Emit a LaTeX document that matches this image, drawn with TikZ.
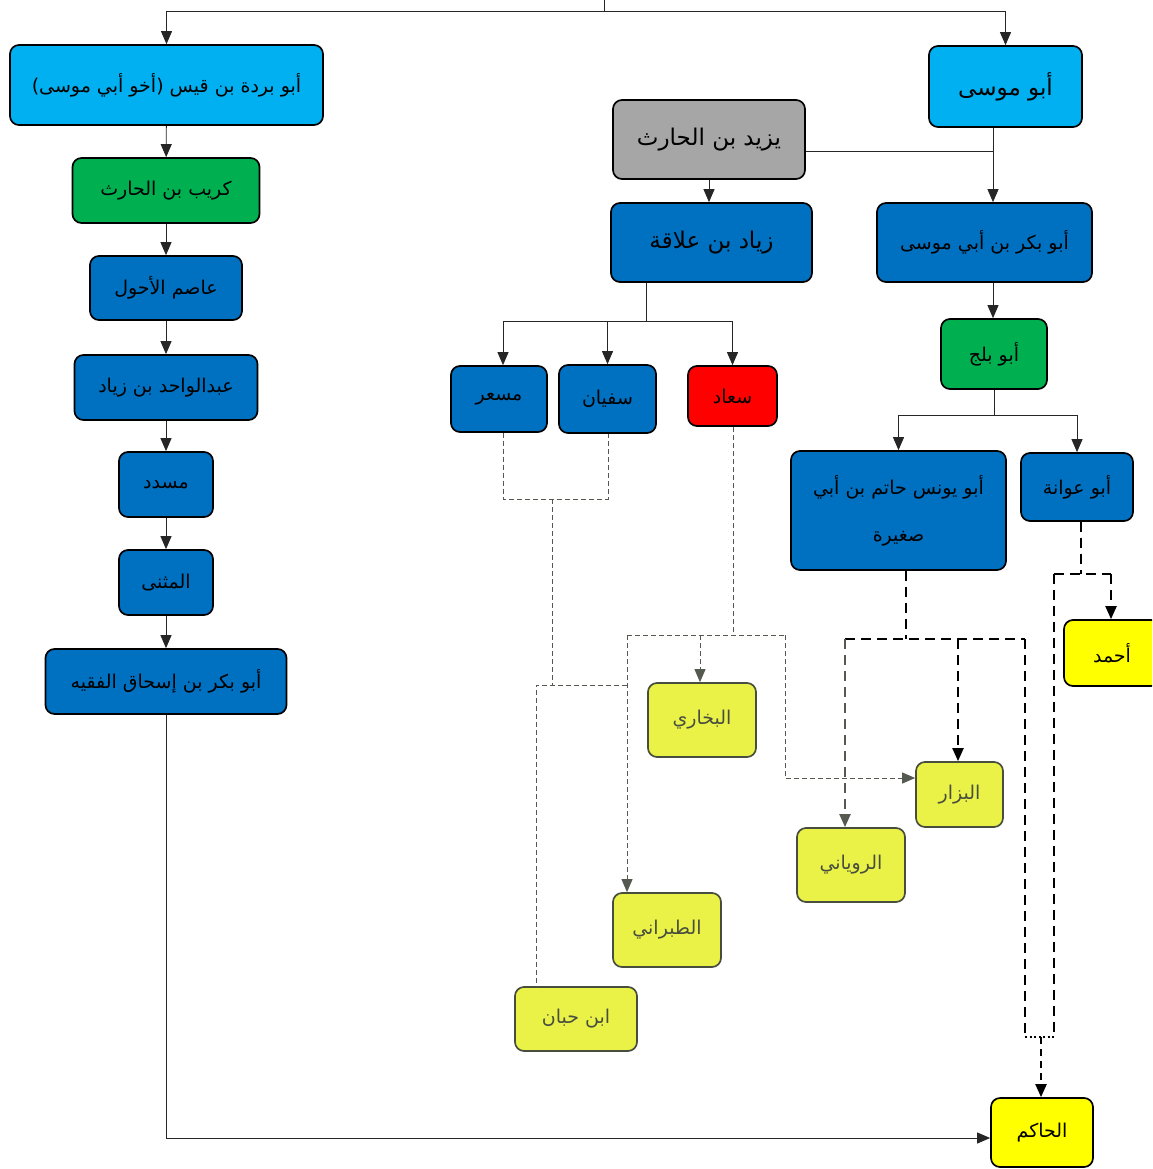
\documentclass[tikz,border=0pt]{standalone}
\usepackage{fontspec}
\usetikzlibrary{arrows.meta,calc}
\TeXXeTstate=1
\newfontfamily\arfont[Script=Arabic]{DejaVu Sans}
\newcommand\AR[1]{\beginR #1\endR}
\definecolor{cyanC}{RGB}{0,176,240}
\definecolor{greenC}{RGB}{0,176,80}
\definecolor{blueC}{RGB}{0,112,192}
\definecolor{grayC}{RGB}{166,166,166}
\definecolor{redC}{RGB}{255,0,0}
\definecolor{yelC}{RGB}{255,255,0}
\definecolor{yelT}{RGB}{234,242,72}
\definecolor{edgeT}{RGB}{72,78,62}
\definecolor{lineT}{RGB}{85,90,80}
\tikzset{
  box/.style={draw=black, line width=1.7pt, rounded corners=9pt, inner sep=2pt,
    font=\arfont\fontsize{19}{23}\selectfont, text=black},
  tbox/.style={box, fill=yelT, draw=edgeT, text=edgeT},
  big/.style={font=\arfont\fontsize{23}{27}\selectfont},
  conn/.style={draw=black!85, line width=0.9pt},
  arr/.style={conn, -{Triangle[width=11pt,length=13pt]}},
  dthin/.style={draw=lineT, line width=0.9pt, dash pattern=on 5pt off 3pt},
  dthinarr/.style={dthin, -{Triangle[width=11pt,length=13pt]}},
  dthick/.style={draw=black, line width=2pt, dash pattern=on 10pt off 6pt},
  dthickarr/.style={dthick, -{Triangle[width=11pt,length=13pt]}},
}
\begin{document}
\begin{tikzpicture}[x=1pt,y=-1pt]
\useasboundingbox (0,0) rectangle (1152,1169);
\begin{scope}
\clip (0,0) rectangle (1152,1169);
% left column
\node[box, fill=cyanC, minimum width=313pt, minimum height=80pt] (burda) at (166.5,85) {\AR{أبو بردة بن قيس (أخو أبي موسى)}};
\node[box, fill=greenC, minimum width=187pt, minimum height=65pt] (kurayb) at (166,190.5) {\AR{كريب بن الحارث}};
\node[box, fill=blueC, minimum width=152pt, minimum height=64pt] (asim) at (166,288) {\AR{عاصم الأحول}};
\node[box, fill=blueC, minimum width=183pt, minimum height=65pt] (abdulwahid) at (166,387.5) {\AR{عبدالواحد بن زياد}};
\node[box, fill=blueC, minimum width=94pt, minimum height=65pt] (musaddad) at (166,484.5) {\AR{مسدد}};
\node[box, fill=blueC, minimum width=94pt, minimum height=65pt] (muthanna) at (166,582.5) {\AR{المثنى}};
\node[box, fill=blueC, minimum width=241pt, minimum height=65pt] (faqih) at (166,681.5) {\AR{أبو بكر بن إسحاق الفقيه}};
% right column
\node[box, big, fill=cyanC, minimum width=153pt, minimum height=81pt] (abumusa) at (1005.5,86.5) {\AR{أبو موسى}};
\node[box, big, fill=grayC, minimum width=192pt, minimum height=79pt] (yazid) at (709,139.5) {\AR{يزيد بن الحارث}};
\node[box, big, fill=blueC, minimum width=201pt, minimum height=79pt] (ziyad) at (711.5,242.5) {\AR{زياد بن علاقة}};
\node[box, fill=blueC, minimum width=215pt, minimum height=79pt] (abubakrmusa) at (984.5,242.5) {\AR{أبو بكر بن أبي موسى}};
\node[box, fill=greenC, minimum width=106pt, minimum height=70pt] (abubalj) at (994,354) {\AR{أبو بلج}};
\node[box, fill=blueC, minimum width=215pt, minimum height=119pt, align=center] (abuyunus) at (898.5,510.5) {\AR{أبو يونس حاتم بن أبي}\\[24pt]\AR{صغيرة}};
\node[box, fill=blueC, minimum width=112pt, minimum height=68pt] (abuawana) at (1077,487) {\AR{أبو عوانة}};
\node[box, fill=yelC, minimum width=96pt, minimum height=66pt] (ahmad) at (1112,653) {\AR{أحمد}};
% middle
\node[box, fill=blueC, minimum width=96pt, minimum height=66pt] (misar) at (499,399) {\AR{مسعر}};
\node[box, fill=blueC, minimum width=97pt, minimum height=68pt] (sufyan) at (607.5,399) {\AR{سفيان}};
\node[box, fill=redC, minimum width=89pt, minimum height=60pt] (saad) at (732.5,396) {\AR{سعاد}};
% collectors
\node[tbox, minimum width=108pt, minimum height=74pt] (bukhari) at (702,720) {\AR{البخاري}};
\node[tbox, minimum width=87pt, minimum height=65pt] (bazzar) at (959.5,794.5) {\AR{البزار}};
\node[tbox, minimum width=108pt, minimum height=74pt] (rawyani) at (851,865) {\AR{الروياني}};
\node[tbox, minimum width=108pt, minimum height=74pt] (tabarani) at (667,930) {\AR{الطبراني}};
\node[tbox, minimum width=122pt, minimum height=64pt] (ibnhibban) at (576,1019) {\AR{ابن حبان}};
\node[box, fill=yelC, minimum width=102pt, minimum height=69pt] (hakim) at (1042,1132.5) {\AR{الحاكم}};

% coordinates
\coordinate (t0) at (604,0);
\coordinate (t1) at (604,11);
\coordinate (mx) at (993,151);
\coordinate (zd) at (646,321);
\coordinate (bj) at (994,415);
\coordinate (hk) at (166,1138);
\coordinate (m1) at (503,499);
\coordinate (s1) at (608,499);
\coordinate (ms) at (552,499);
\coordinate (ms2) at (552,685);
\coordinate (hb) at (536,685);
\coordinate (tb) at (627,685);
\coordinate (sd) at (733,635);
\coordinate (tb0) at (627,635);
\coordinate (bk) at (700,635);
\coordinate (bz0) at (785,635);
\coordinate (bz1) at (785,778);
\coordinate (y1) at (906,639);
\coordinate (yl) at (845,639);
\coordinate (ym) at (958,639);
\coordinate (yr) at (1025,639);
\coordinate (yb) at (1025,1037);
\coordinate (aw) at (1081,574);
\coordinate (awl) at (1054,574);
\coordinate (awr) at (1111,574);
\coordinate (awb) at (1054,1037);
\coordinate (hk2) at (1041,1037);

% solid connectors
\draw[conn] (t0) -- (t1);
\draw[arr] (t1) -| (burda.north);
\draw[arr] (t1) -| (abumusa.north);
\draw[arr] (burda) -- (kurayb);
\draw[arr] (kurayb) -- (asim);
\draw[arr] (asim) -- (abdulwahid);
\draw[arr] (abdulwahid) -- (musaddad);
\draw[arr] (musaddad) -- (muthanna);
\draw[arr] (muthanna) -- (faqih);
\draw[arr] (faqih.south) -- (hk) -- (hakim.west |- hk);
\draw[arr] (mx |- abumusa.south) -- (mx |- abubakrmusa.north);
\draw[conn] ([yshift=-11.5pt]yazid.east) -- (mx);
\draw[arr] (yazid.south) -- (yazid.south |- ziyad.north);
\draw[arr] (mx |- abubakrmusa.south) -- (mx |- abubalj.north);
\draw[conn] (abubalj.south) -- (bj);
\draw[arr] (bj) -| (abuyunus.north);
\draw[arr] (bj) -| (abuawana.north);
\draw[conn] (zd |- ziyad.south) -- (zd);
\draw[arr] (zd) -| (m1 |- misar.north);
\draw[arr] (zd) -| (sufyan.north);
\draw[arr] (zd) -| (saad.north);

% thin dashed
\draw[dthin] (m1 |- misar.south) -- (m1) -- (s1) -- (s1 |- sufyan.south);
\draw[dthin] (ms) -- (ms2);
\draw[dthin] (tb) -- (hb) -- (hb |- ibnhibban.north);
\draw[dthin] (sd |- saad.south) -- (sd);
\draw[dthin] (tb0) -- (bz0);
\draw[dthinarr] (tb0) -- (tb0 |- tabarani.north);
\draw[dthinarr] (bk) -- (bk |- bukhari.north);
\draw[dthinarr] (bz0) -- (bz1) -- (bazzar.west |- bz1);

% thick dashed
\draw[dthick] (y1 |- abuyunus.south) -- (y1);
\draw[dthick] (yl) -- (yr);
\draw[dthickarr] (ym) -- (ym |- bazzar.north);
\draw[dthickarr, draw=lineT] (yl) -- (yl |- rawyani.north);
\draw[dthick] (yr) -- (yb);
\draw[dthick] (aw |- abuawana.south) -- (aw);
\draw[dthick] (awl) -- (awr);
\draw[dthickarr] (awr) -- (awr |- ahmad.north);
\draw[dthick] (awl) -- (awb);
\draw[draw=black, line width=1.6pt, dash pattern=on 2pt off 2.5pt] (yb) -- (awb);
\draw[dthickarr, dash pattern=on 7pt off 5pt] (hk2) -- (hk2 |- hakim.north);
\end{scope}
\end{tikzpicture}
\end{document}
